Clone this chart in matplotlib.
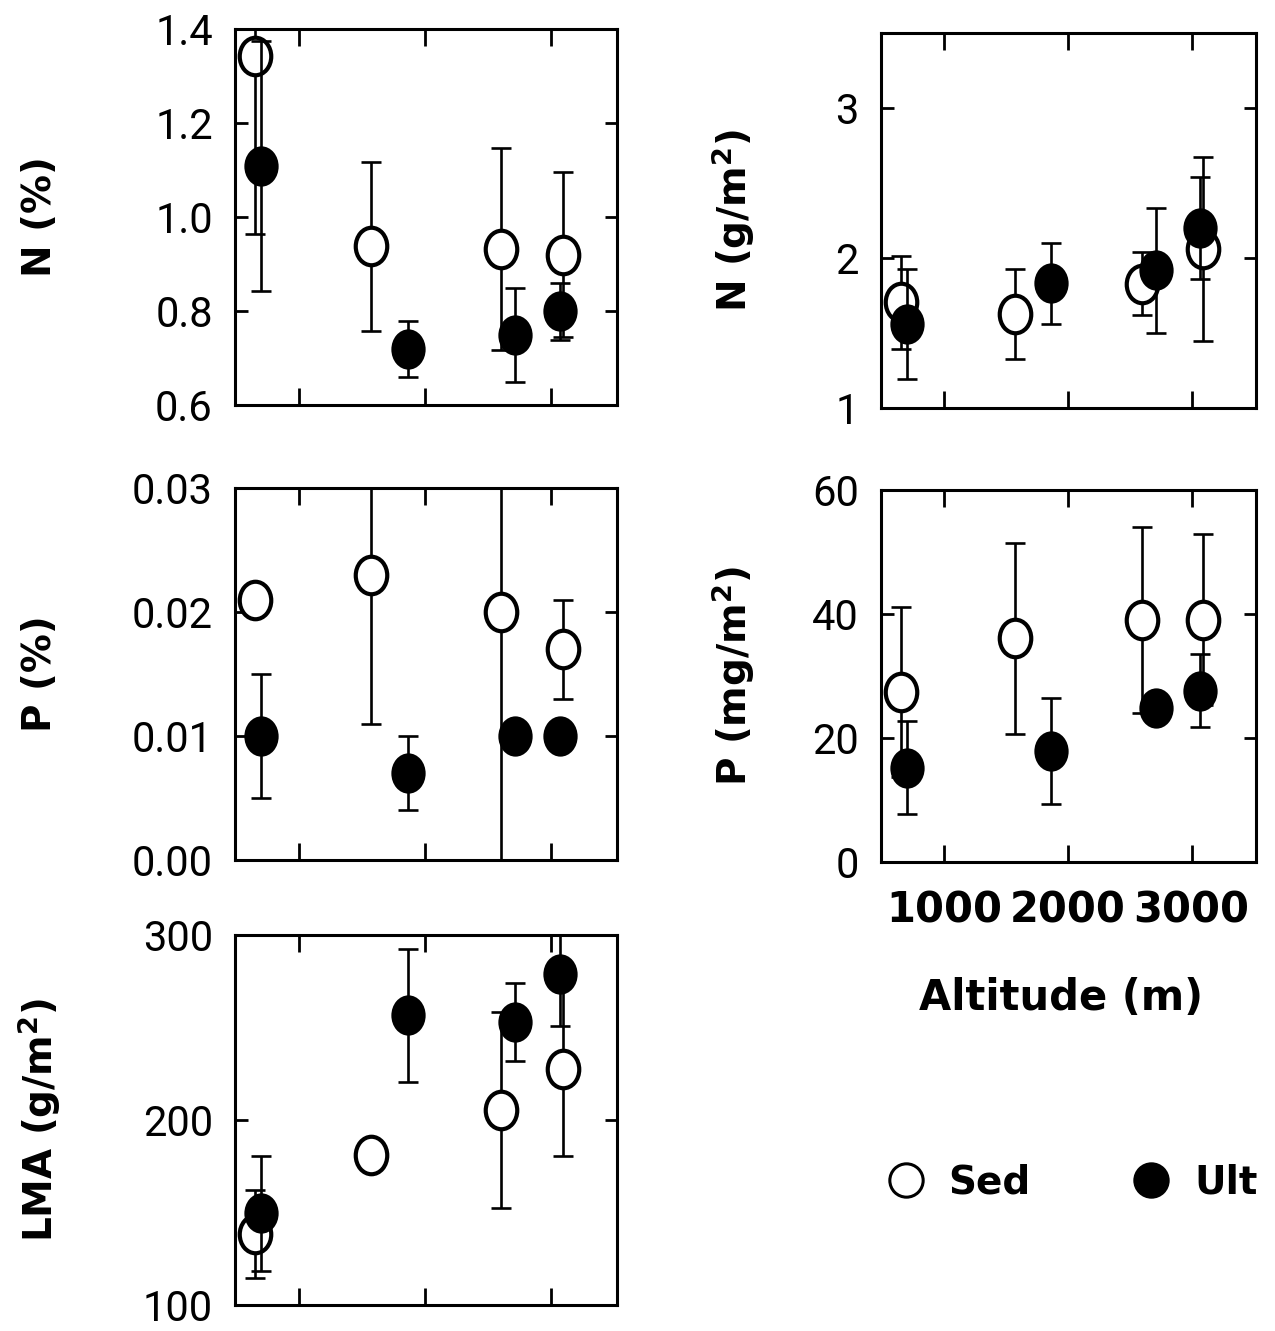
import matplotlib
matplotlib.use('Agg')
import matplotlib.pyplot as plt
from matplotlib.path import Path
from matplotlib.lines import Line2D
import numpy as np

# ---------------- data ----------------
alt_sed = [650, 1570, 2600, 3090]
alt_ult = [700, 1860, 2710, 3070]

n_pct_sed = [1.343, 0.938, 0.932, 0.920]
n_pct_sed_err = [0.38, 0.18, 0.215, 0.176]
n_pct_ult = [1.108, 0.719, 0.749, 0.799]
n_pct_ult_err = [0.266, 0.06, 0.10, 0.06]

p_pct_sed = [0.021, 0.023, 0.020, 0.017]
p_pct_sed_err = [0.0008, 0.012, 0.021, 0.004]
p_pct_ult = [0.010, 0.007, 0.010, 0.010]
p_pct_ult_err = [0.005, 0.003, 0.0004, 0.0004]

lma_sed = [138.4, 181.2, 205.4, 227.7]
lma_sed_err = [24, 2, 53, 47]
lma_ult = [149.5, 256.6, 253.0, 278.9]
lma_ult_err = [31, 36, 21, 28]

n_area_sed = [1.704, 1.627, 1.829, 2.06]
n_area_sed_err = [0.31, 0.30, 0.21, 0.615]
n_area_ult = [1.56, 1.831, 1.918, 2.20]
n_area_ult_err = [0.365, 0.27, 0.415, 0.34]

p_area_sed = [27.4, 36.1, 39.1, 39.1]
p_area_sed_err = [13.7, 15.4, 15.0, 13.8]
p_area_ult = [15.2, 17.9, 24.9, 27.6]
p_area_ult_err = [7.5, 8.5, 0.5, 5.9]

x_ticks = [1000, 2000, 3000]
x_ticklabels = ['1000', '2000', '3000']

# ---------------- style ----------------
plt.rcParams['font.family'] = ['DejaVu Sans']
W, H = 1275, 1331
fig = plt.figure(figsize=(W / 100, H / 100), dpi=100)

circ = Path.unit_circle()
ell = Path(circ.vertices * np.array([0.84, 1.0]), circ.codes)

TICKFONT = {'family': ['Roboto', 'DejaVu Sans'], 'weight': 'normal', 'size': 30}

def panel(rect, ys, yse, yu, yue, ylim, yticks, yticklabels, ylabel, labx, showx=False):
    ax = fig.add_axes(rect)
    ax.errorbar(alt_sed, ys, yerr=yse, fmt='none', ecolor='k', elinewidth=1.9,
                capsize=7, capthick=1.9, zorder=2)
    ax.plot(alt_sed, ys, ls='none', marker=ell, ms=27, mfc='white', mec='k', mew=3, zorder=3)
    ax.errorbar(alt_ult, yu, yerr=yue, fmt='none', ecolor='k', elinewidth=1.9,
                capsize=7, capthick=1.9, zorder=4)
    ax.plot(alt_ult, yu, ls='none', marker=ell, ms=27, mfc='black', mec='k', mew=2, zorder=5)
    ax.set_xlim(490, 3520)
    ax.set_ylim(*ylim)
    ax.set_xticks(x_ticks)
    ax.set_yticks(yticks)
    ax.set_yticklabels(yticklabels, fontdict=TICKFONT)
    for s in ax.spines.values():
        s.set_linewidth(2.2)
    ax.tick_params(axis='x', direction='in', length=12, width=2, top=True, bottom=True)
    ax.tick_params(axis='y', direction='in', length=9, width=2, left=True, right=True, pad=16)
    if showx:
        ax.set_xticklabels(x_ticklabels, fontsize=30, fontweight='bold')
        ax.tick_params(axis='x', pad=20)
    else:
        ax.tick_params(axis='x', labelbottom=False)
    ax.set_ylabel(ylabel, fontsize=28, fontweight='bold')
    ax.yaxis.set_label_coords(labx, 0.5)
    return ax

lx0, lw = 235 / W, 382 / W
rx0, rw = 881 / W, 375 / W

panel([lx0, 1 - 405 / H, lw, 376 / H], n_pct_sed, n_pct_sed_err, n_pct_ult, n_pct_ult_err,
      (0.6, 1.4), [0.6, 0.8, 1.0, 1.2, 1.4], ['0.6', '0.8', '1.0', '1.2', '1.4'],
      'N (%)', -0.46)
panel([lx0, 1 - 860 / H, lw, 372 / H], p_pct_sed, p_pct_sed_err, p_pct_ult, p_pct_ult_err,
      (0.0, 0.03), [0.0, 0.01, 0.02, 0.03], ['0.00', '0.01', '0.02', '0.03'],
      'P (%)', -0.46)
panel([lx0, 1 - 1305 / H, lw, 370 / H], lma_sed, lma_sed_err, lma_ult, lma_ult_err,
      (100, 300), [100, 200, 300], ['100', '200', '300'],
      'LMA (g/m$^{\\mathbf{2}}$)', -0.45)
panel([rx0, 1 - 408 / H, rw, 375 / H], n_area_sed, n_area_sed_err, n_area_ult, n_area_ult_err,
      (1, 3.5), [1, 2, 3], ['1', '2', '3'],
      'N (g/m$^{\\mathbf{2}}$)', -0.33)
panel([rx0, 1 - 862 / H, rw, 372 / H], p_area_sed, p_area_sed_err, p_area_ult, p_area_ult_err,
      (0, 60), [0, 20, 40, 60], ['0', '20', '40', '60'],
      'P (mg/m$^{\\mathbf{2}}$)', -0.33, showx=True)

fig.text((881 + 1256) / 2 / W - 0.006, 1 - 998 / H, 'Altitude (m)', ha='center', va='center',
         fontsize=30, fontweight='bold')

handles = [Line2D([], [], ls='none', marker='o', ms=24, mfc='white', mec='k', mew=2.2, label='Sed'),
           Line2D([], [], ls='none', marker='o', ms=24, mfc='black', mec='k', mew=2.2, label='Ult')]
fig.legend(handles=handles, loc='center', bbox_to_anchor=(1072 / W, 1 - 1183 / H), ncol=2,
           frameon=False, prop={'weight': 'bold', 'size': 28}, columnspacing=2.6,
           handletextpad=0.6, handlelength=1.0)

fig.savefig('out.png', dpi=100)
